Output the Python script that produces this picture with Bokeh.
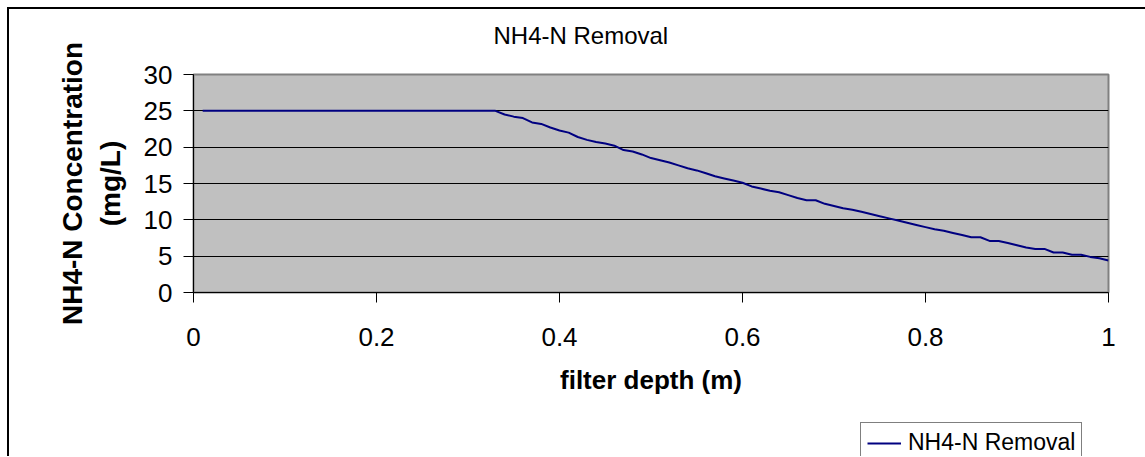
from bokeh.plotting import figure
from bokeh.layouts import column
from bokeh.models import (Range1d, FixedTicker, Legend, LegendItem, Title,
                          CustomJSTickFormatter)
from bokeh.embed import file_html
from bokeh.resources import INLINE

# ---- data ----
depth = [0.01, 0.33, 0.34, 0.35, 0.36, 0.37, 0.38, 0.39, 0.40, 0.41, 0.42, 0.43, 0.44,
         0.45, 0.46, 0.47, 0.48, 0.49, 0.50, 0.51, 0.52, 0.53, 0.54, 0.55, 0.56, 0.57,
         0.58, 0.59, 0.60, 0.61, 0.62, 0.63, 0.64, 0.65, 0.66, 0.67, 0.68, 0.69, 0.70,
         0.71, 0.72, 0.73, 0.74, 0.75, 0.76, 0.77, 0.78, 0.79, 0.80, 0.81, 0.82, 0.83,
         0.84, 0.85, 0.86, 0.87, 0.88, 0.89, 0.90, 0.91, 0.92, 0.93, 0.94, 0.95, 0.96,
         0.97, 0.98, 0.99, 1.00]
conc = [25.0, 25.0, 24.5, 24.2, 24.0, 23.4, 23.2, 22.7, 22.3, 22.0, 21.4, 21.0, 20.7,
        20.5, 20.2, 19.6, 19.4, 19.0, 18.5, 18.2, 17.9, 17.5, 17.1, 16.8, 16.4, 16.0,
        15.7, 15.4, 15.1, 14.6, 14.3, 14.0, 13.8, 13.4, 13.0, 12.7, 12.7, 12.2, 11.9,
        11.6, 11.4, 11.1, 10.8, 10.5, 10.2, 9.9, 9.6, 9.3, 9.0, 8.7, 8.5, 8.2,
        7.9, 7.6, 7.6, 7.1, 7.1, 6.8, 6.5, 6.2, 6.0, 6.0, 5.5, 5.5, 5.2,
        5.2, 4.9, 4.7, 4.4]
x_ticks = [0, 0.2, 0.4, 0.6, 0.8, 1.0]
y_ticks = [0, 5, 10, 15, 20, 25, 30]
grid_ticks = [5, 10, 15, 20, 25]
title_text = "NH4-N Removal"
x_label = "filter depth (m)"
y_label = "NH4-N Concentration\n(mg/L)"
series_name = "NH4-N Removal"

FONT = "Liberation Sans"
LINE_COLOR = "#000080"
BORDERS = dict(min_border_left=184, min_border_right=37)

# ---- main chart ----
p = figure(frame_width=915, frame_height=218,
           x_range=Range1d(0, 1), y_range=Range1d(0, 30),
           output_backend="svg", toolbar_location=None,
           min_border_top=65, min_border_bottom=110, **BORDERS,
           background_fill_color="#c0c0c0", border_fill_color="white",
           outline_line_color="#808080", outline_line_width=2)
p.title.text = ""

# gap between plot area and title, then the title itself
p.add_layout(Title(text=" ", text_font_size="1px", standoff=23), "above")
p.add_layout(Title(text=title_text, align="left", offset=300, standoff=0,
                   text_font=FONT, text_font_size="24px",
                   text_font_style="normal", text_color="black"), "above")

for ax in (p.xaxis[0], p.yaxis[0]):
    ax.axis_line_color = "black"
    ax.axis_line_width = 1
    ax.major_tick_line_color = "black"
    ax.major_tick_out = 10
    ax.major_tick_in = 0
    ax.minor_tick_line_color = None
    ax.major_label_text_font = FONT
    ax.major_label_text_font_size = "26px"
    ax.major_label_text_color = "black"
    ax.axis_label_text_font = FONT
    ax.axis_label_text_font_style = "bold"
    ax.axis_label_text_color = "black"

p.xaxis.ticker = FixedTicker(ticks=x_ticks)
p.xaxis.formatter = CustomJSTickFormatter(code="return tick.toString();")
p.xaxis.axis_label = x_label
p.xaxis.axis_label_text_font_size = "26px"
p.xaxis.major_label_standoff = 25
p.xaxis.axis_label_standoff = 16

p.yaxis.ticker = FixedTicker(ticks=y_ticks)
p.yaxis.axis_label = y_label
p.yaxis.axis_label_text_font_size = "28px"
p.yaxis.major_label_standoff = 11
p.yaxis.axis_label_standoff = 15

p.xgrid.grid_line_color = None
p.ygrid.ticker = FixedTicker(ticks=grid_ticks)
p.ygrid.grid_line_color = "black"
p.ygrid.grid_line_width = 1

r = p.line(depth, conc, line_color=LINE_COLOR, line_width=2)

# ---- legend strip below the chart (axis-less figure) ----
p2 = figure(frame_width=915, frame_height=54,
            x_range=Range1d(0, 1), y_range=Range1d(-2, -1),
            x_axis_type=None, y_axis_type=None,
            output_backend="svg", toolbar_location=None,
            min_border_top=0, min_border_bottom=0, **BORDERS,
            outline_line_color=None,
            background_fill_color="white", border_fill_color="white")
# same series, lying outside this strip's visible range: it only feeds the legend key
r2 = p2.line(depth, conc, line_color=LINE_COLOR, line_width=2)

legend = Legend(items=[LegendItem(label=series_name, renderers=[r2])],
                location=(667, -7))
legend.label_text_font = FONT
legend.label_text_font_size = "23px"
legend.label_text_color = "black"
legend.border_line_color = "black"
legend.border_line_width = 1.5
legend.background_fill_color = "white"
legend.background_fill_alpha = 1
legend.padding = 6
legend.margin = 0
legend.label_standoff = 7
legend.glyph_width = 34
legend.spacing = 0
p2.add_layout(legend, "center")

layout = column(p, p2, spacing=0)
# outer chart-area frame: only its left and top edges are inside the window
layout.margin = (7, 0, 0, 7)
layout.styles = {"border-left": "2px solid black", "border-top": "2px solid black"}

open("out.html", "w").write(file_html(layout, INLINE))
